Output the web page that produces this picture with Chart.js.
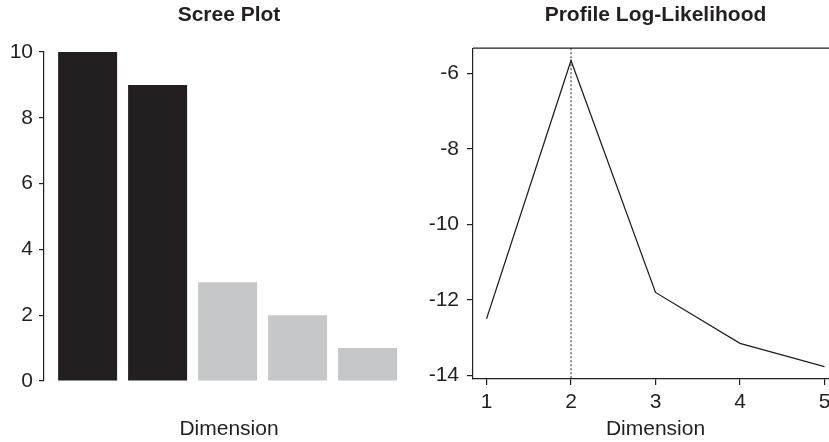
<!DOCTYPE html>
<html>
<head>
<meta charset="utf-8">
<script src="https://cdn.jsdelivr.net/npm/chart.js@4"></script>
<style>
    html, body { margin: 0; padding: 0; background: #fff; overflow: hidden; }
    .panel { position: absolute; top: 0; height: 442px; }
    #left { left: 0; width: 414px; }
    #right { left: 420px; width: 418px; }
</style>
</head>
<body>
<div class="panel" id="left"><canvas id="graficoScree"></canvas></div>
<div class="panel" id="right"><canvas id="graficoLik"></canvas></div>
<script>
// datos
const dimensiones = [1, 2, 3, 4, 5];
const autovalores = [10, 9, 3, 2, 1];
const logVerosimilitud = [-12.5, -5.65, -11.8, -13.15, -13.77];
const ticksScree = [0, 2, 4, 6, 8, 10];
const ticksLik = [-14, -12, -10, -8, -6];
const dimElegida = 2;   // numero de dimensiones retenidas

const tinta = '#231f20';
const gris = '#c6c7c9';

Chart.defaults.font.family = "'Liberation Sans', Arial, Helvetica, sans-serif";
Chart.defaults.font.size = 21;
Chart.defaults.color = tinta;
Chart.defaults.animation = false;

// marco superior/derecho y linea punteada en la dimension elegida
const marco = {
    id: 'marco',
    afterDatasetsDraw(chart, args, opts) {
        if (!opts.activo) return;
        const { ctx, chartArea: a, scales } = chart;
        ctx.save();
        ctx.strokeStyle = tinta;
        ctx.lineWidth = 1.2;
        ctx.beginPath();
        ctx.moveTo(a.left, a.top);
        ctx.lineTo(a.right, a.top);
        ctx.lineTo(a.right, a.bottom);
        ctx.stroke();

        const x = scales.x.getPixelForValue(dimElegida);
        ctx.lineWidth = 1;
        ctx.setLineDash([2, 2]);
        ctx.beginPath();
        ctx.moveTo(x, a.top);
        ctx.lineTo(x, a.bottom);
        ctx.stroke();
        ctx.restore();
    }
};

// Scree plot
new Chart(document.getElementById('graficoScree'), {
    type: 'bar',
    data: {
        labels: dimensiones,
        datasets: [{
            data: autovalores,
            backgroundColor: ctx => (ctx.dataIndex < dimElegida ? tinta : gris),
            borderWidth: 0,
            categoryPercentage: 1,
            barPercentage: 0.843
        }]
    },
    options: {
        responsive: true,
        maintainAspectRatio: false,
        layout: { padding: 0 },
        plugins: {
            legend: { display: false },
            tooltip: { enabled: false },
            marco: { activo: false },
            title: {
                display: true,
                text: 'Scree Plot',
                fullSize: false,
                color: tinta,
                font: { size: 21, weight: 'bold' },
                padding: { top: 3, bottom: 23.8 }
            }
        },
        scales: {
            x: {
                type: 'linear',
                offset: false,
                min: 0.377,
                max: 5.663,
                grid: { display: false, offset: false },
                border: { display: false },
                ticks: { display: false },
                title: { display: true, text: 'Dimension', padding: 0 },
                afterFit: s => { s.height = 61; }
            },
            y: {
                min: 0,
                max: 10,
                afterBuildTicks: s => { s.ticks = ticksScree.map(v => ({ value: v })); },
                grid: { drawOnChartArea: false, tickLength: 5, color: tinta, lineWidth: 1.2 },
                border: { color: tinta, width: 1.2 },
                ticks: { padding: 6 },
                afterFit: s => { s.width = 44; }
            }
        }
    },
    plugins: [marco]
});

// Perfil de log-verosimilitud
new Chart(document.getElementById('graficoLik'), {
    type: 'line',
    data: {
        labels: dimensiones,
        datasets: [{
            data: logVerosimilitud,
            borderColor: tinta,
            borderWidth: 1.3,
            pointRadius: 0,
            tension: 0,
            fill: false
        }]
    },
    options: {
        responsive: true,
        maintainAspectRatio: false,
        layout: { padding: 0 },
        plugins: {
            legend: { display: false },
            tooltip: { enabled: false },
            marco: { activo: true },
            title: {
                display: true,
                text: 'Profile Log-Likelihood',
                fullSize: false,
                color: tinta,
                font: { size: 21, weight: 'bold' },
                padding: { top: 3, bottom: 20 }
            }
        },
        scales: {
            x: {
                type: 'linear',
                min: 0.84,
                max: 5.16,
                afterBuildTicks: s => { s.ticks = dimensiones.map(v => ({ value: v })); },
                grid: { drawOnChartArea: false, tickLength: 6, color: tinta, lineWidth: 1.2 },
                border: { color: tinta, width: 1.2 },
                ticks: { padding: 5, maxRotation: 0, autoSkip: false },
                title: { display: true, text: 'Dimension', padding: 0 },
                afterFit: s => { s.height = 63; }
            },
            y: {
                min: -14.095,
                max: -5.325,
                afterBuildTicks: s => { s.ticks = ticksLik.map(v => ({ value: v })); },
                grid: { drawOnChartArea: false, tickLength: 6, color: tinta, lineWidth: 1.2 },
                border: { color: tinta, width: 1.2 },
                ticks: { padding: 8 },
                afterFit: s => { s.width = 53; }
            }
        }
    },
    plugins: [marco]
});
</script>
</body>
</html>
